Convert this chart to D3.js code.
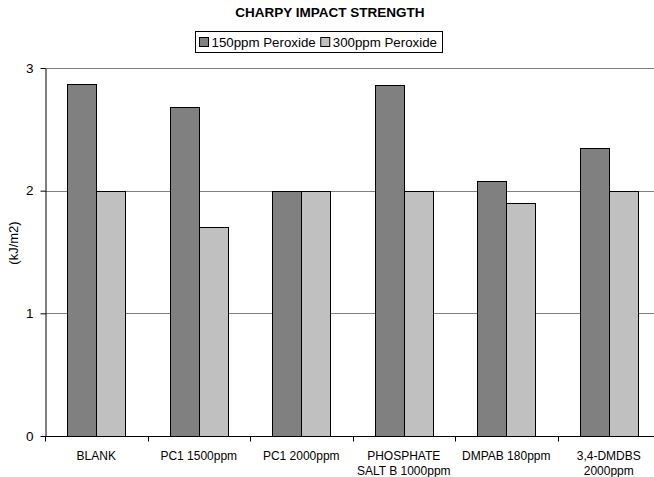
<!DOCTYPE html>
<html>
<head>
<meta charset="utf-8">
<script src="https://cdn.jsdelivr.net/npm/d3@7/dist/d3.min.js"></script>
<style>
  html, body { margin: 0; padding: 0; background: #fff; }
  svg { display: block; font-family: Arial, "Liberation Sans", sans-serif; }
</style>
</head>
<body>
<svg id="chart" width="654" height="477"></svg>
<script>
// Charpy impact strength by additive, at two peroxide levels
const categories = [
  ["BLANK"],
  ["PC1 1500ppm"],
  ["PC1 2000ppm"],
  ["PHOSPHATE", "SALT B 1000ppm"],
  ["DMPAB 180ppm"],
  ["3,4-DMDBS", "2000ppm"]
];
const seriesNames = ["150ppm Peroxide", "300ppm Peroxide"];
const values150 = [2.87, 2.68, 2.0, 2.86, 2.08, 2.35];
const values300 = [2.0, 1.7, 2.0, 2.0, 1.9, 2.0];
const yTicks = [0, 1, 2, 3];

const colors = ["#808080", "#c0c0c0"];
const svg = d3.select("#chart");

const margin = { left: 45, right: -6, top: 68, bottom: 41 };
const W = 654, H = 477;
const plotW = W - margin.left - margin.right;
const plotH = H - margin.top - margin.bottom;

const g = svg.append("g").attr("transform", `translate(${margin.left},${margin.top})`);

const x0 = d3.scaleBand().domain(d3.range(categories.length)).range([0, plotW]).paddingInner(0).paddingOuter(0);
const bandW = x0.bandwidth();
const barW = 29;
const y = d3.scaleLinear().domain([0, 3]).range([plotH, 0]);

// gridlines
g.selectAll(".grid").data(yTicks.filter(d => d > 0)).enter().append("line")
  .attr("x1", 0).attr("x2", plotW)
  .attr("y1", d => Math.round(y(d)) + 0.5).attr("y2", d => Math.round(y(d)) + 0.5)
  .attr("stroke", "#808080").attr("stroke-width", 1);

// bars
const series = [values150, values300];
series.forEach((vals, si) => {
  g.selectAll(".bar" + si).data(vals).enter().append("rect")
    .attr("x", (d, i) => Math.round(x0(i) + (bandW - 2 * barW) / 2 + si * barW) + 0.5)
    .attr("y", d => Math.round(y(d)) + 0.5)
    .attr("width", barW)
    .attr("height", d => Math.round(y(0)) - Math.round(y(d)))
    .attr("fill", colors[si])
    .attr("stroke", "#000").attr("stroke-width", 1);
});

// y axis
const yAxis = d3.axisLeft(y).tickValues(yTicks).tickFormat(d3.format("d")).tickSize(5).tickSizeOuter(0);
const ya = g.append("g").attr("transform", "translate(0.5,0)").call(yAxis);
ya.select(".domain").attr("stroke", "#000");
ya.selectAll(".tick line").attr("stroke", "#000");
ya.selectAll(".tick text").attr("font-size", "13.5px").attr("fill", "#000").attr("x", -12)
  .attr("font-family", "Arial, 'Liberation Sans', sans-serif");

// x axis
const xa = g.append("g").attr("transform", `translate(0,${Math.round(plotH) + 0.5})`);
xa.append("line").attr("x1", 0).attr("x2", plotW).attr("stroke", "#000");
xa.selectAll(".xt").data(d3.range(categories.length + 1)).enter().append("line")
  .attr("x1", i => Math.round(i * bandW) + 0.5).attr("x2", i => Math.round(i * bandW) + 0.5)
  .attr("y1", 0).attr("y2", 5).attr("stroke", "#000");
const labels = xa.selectAll(".xl").data(categories).enter().append("text")
  .attr("x", (d, i) => x0(i) + bandW / 2)
  .attr("y", 23)
  .attr("text-anchor", "middle")
  .attr("font-size", "12px").attr("fill", "#000");
labels.selectAll("tspan").data(d => d).enter().append("tspan")
  .attr("x", function () { return d3.select(this.parentNode).attr("x"); })
  .attr("dy", (d, i) => i === 0 ? 0 : 15)
  .text(d => d);

// y axis title
svg.append("text")
  .attr("transform", `translate(18,${margin.top + plotH / 2 - 9}) rotate(-90)`)
  .attr("text-anchor", "middle")
  .attr("font-size", "13px").attr("fill", "#000")
  .text("(kJ/m2)");

// chart title
svg.append("text")
  .attr("x", 330).attr("y", 17)
  .attr("text-anchor", "middle")
  .attr("font-size", "13.5px").attr("font-weight", "bold").attr("fill", "#000")
  .text("CHARPY IMPACT STRENGTH");

// legend
const legend = svg.append("g").attr("transform", "translate(195.5,31.5)");
legend.append("rect").attr("width", 247).attr("height", 21).attr("fill", "#fff").attr("stroke", "#000");
let lx = 4;
seriesNames.forEach((name, i) => {
  const item = legend.append("g").attr("transform", `translate(${lx},0)`);
  item.append("rect").attr("x", 0).attr("y", 6).attr("width", 9).attr("height", 9)
    .attr("fill", colors[i]).attr("stroke", "#000");
  const t = item.append("text").attr("x", 12).attr("y", 15.5)
    .attr("font-size", "13.3px").attr("fill", "#000").text(name);
  lx += 12 + t.node().getComputedTextLength() + 5;
});
</script>
</body>
</html>
